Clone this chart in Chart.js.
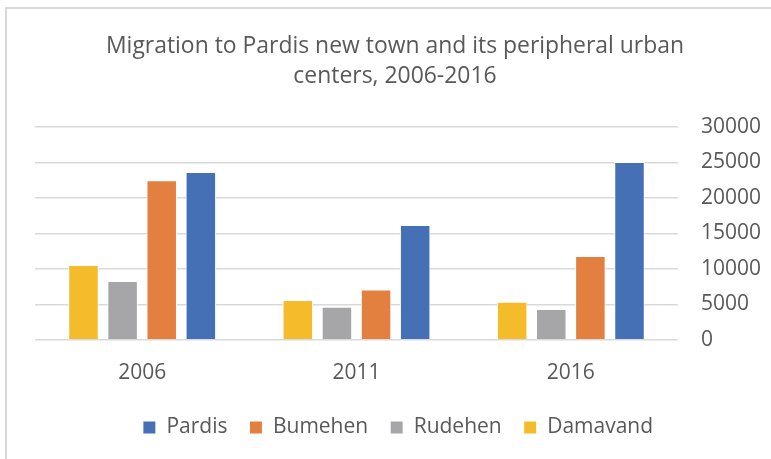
<!DOCTYPE html>
<html>
<head>
<meta charset="utf-8">
<script src="https://cdn.jsdelivr.net/npm/chart.js@4/dist/chart.umd.min.js"></script>
<style>
  html, body { margin: 0; padding: 0; background: #fff; }
  #wrap { position: relative; width: 771px; height: 459px; overflow: hidden; }
  #frame { position: absolute; left: 5px; top: 7px; right: -10px; bottom: -10px;
           border-left: 2px solid #d9d9d9; border-top: 2px solid #d9d9d9; }
  #chart-box { position: absolute; left: 0; top: 0; }
</style>
</head>
<body>
<div id="wrap">
  <div id="frame"></div>
  <canvas id="chart-box" width="771" height="459"></canvas>
</div>
<script>
// data
var years = ["2006", "2011", "2016"];
var damavand = [10550, 5600, 5350];
var rudehen = [8300, 4650, 4350];
var bumehen = [22500, 7100, 11800];
var pardis = [23650, 16200, 25050];
var yTicks = [0, 5000, 10000, 15000, 20000, 25000, 30000];
var titleLines = [
  "Migration to Pardis new town and its peripheral urban",
  "centers, 2006-2016"
];

var textColor = "#595959";
var gridColor = "#d9d9d9";

// title drawn by hand: original font is a narrow one, so squeeze it a bit
var titlePlugin = {
  id: "sideTitle",
  afterDraw: function (chart) {
    var ctx = chart.ctx;
    ctx.save();
    ctx.fillStyle = textColor;
    ctx.font = "24px 'Open Sans', sans-serif";
    ctx.textAlign = "center";
    ctx.textBaseline = "alphabetic";
    var squeeze = Math.min(1, 578 / ctx.measureText(titleLines[0]).width);
    titleLines.forEach(function (line, i) {
      var w = ctx.measureText(line).width * squeeze;
      ctx.fillText(line, 395, 53 + i * 30, w);
    });
    ctx.restore();
  },
};

function makeSet(label, data, color) {
  return {
    label: label,
    data: data,
    backgroundColor: color,
    borderColor: "#ffffff",
    borderWidth: 1,
    categoryPercentage: 0.73,
    barPercentage: 0.78,
  };
}

var ctx = document.getElementById("chart-box").getContext("2d");
var chart = new Chart(ctx, {
  type: "bar",
  data: {
    labels: years,
    datasets: [
      makeSet("Damavand", damavand, "#F4BC2B"),
      makeSet("Rudehen", rudehen, "#A6A6A8"),
      makeSet("Bumehen", bumehen, "#E4803F"),
      makeSet("Pardis", pardis, "#4670B6"),
    ],
  },
  options: {
    responsive: false,
    animation: false,
    layout: {
      padding: { left: 35, right: 10, top: 127, bottom: 11 },
    },
    plugins: {
      title: { display: false },
      tooltip: { enabled: false },
      legend: {
        position: "bottom",
        reverse: true,
        labels: {
          color: textColor,
          boxWidth: 13,
          boxHeight: 13,
          padding: 22,
          font: { family: "'Open Sans', sans-serif", size: 21 },
        },
      },
    },
    scales: {
      x: {
        grid: { display: false },
        border: { display: false },
        afterFit: function (axis) {
          axis.height -= 4;
        },
        ticks: {
          color: textColor,
          padding: 13,
          font: { family: "'Open Sans', sans-serif", size: 21 },
        },
      },
      y: {
        position: "right",
        min: 0,
        max: 30000,
        afterBuildTicks: function (axis) {
          axis.ticks = yTicks.map(function (v) { return { value: v }; });
        },
        afterFit: function (axis) {
          axis.width = 83;
        },
        grid: { color: gridColor, lineWidth: 1.6, drawTicks: false },
        border: { display: false },
        ticks: {
          color: textColor,
          padding: 23,
          font: { family: "'Open Sans', sans-serif", size: 21 },
          callback: function (v) { return String(v); },
        },
      },
    },
  },
  plugins: [titlePlugin],
});
</script>
</body>
</html>
